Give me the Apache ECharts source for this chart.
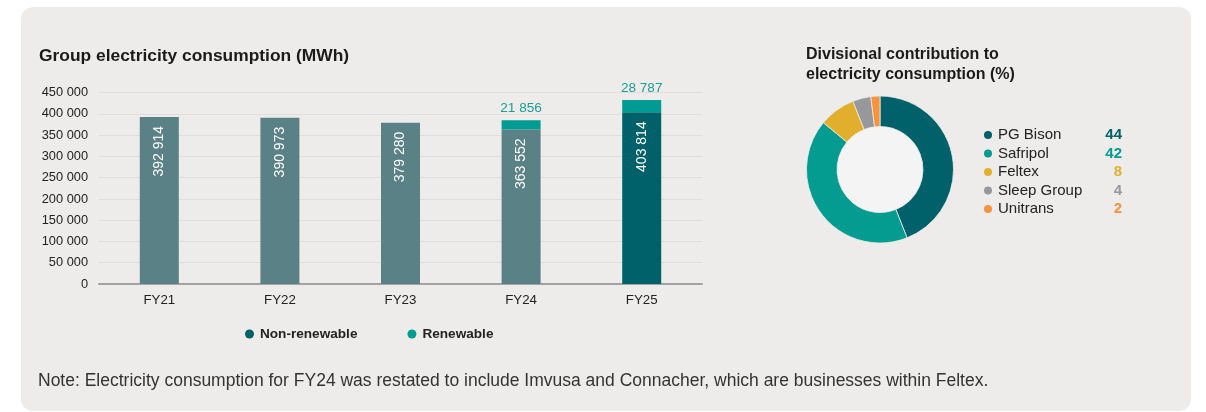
<!DOCTYPE html>
<html>
<head>
<meta charset="utf-8">
<script src="https://cdn.jsdelivr.net/npm/echarts@6/dist/echarts.min.js"></script>
<style>
  html, body { margin: 0; padding: 0; background: #ffffff; }
  #chart { width: 1206px; height: 412px; }
</style>
</head>
<body>
<div id="chart"></div>
<script>
// Group electricity consumption (MWh)
const years = ['FY21', 'FY22', 'FY23', 'FY24', 'FY25'];
const nonRenewable = [392914, 390973, 379280, 363552, 403814];
const renewable = [null, null, null, 21856, 28787];
const yTicks = { min: 0, max: 450000, interval: 50000 };

// Divisional contribution to electricity consumption (%)
const divisions = ['PG Bison', 'Safripol', 'Feltex', 'Sleep Group', 'Unitrans'];
const shares = [44, 42, 8, 4, 2];

const divisionColors = ['#00616a', '#049b90', '#e2af2c', '#98989c', '#f7923d'];
const pastBarColor = '#5a8186';
const currentBarColor = '#00616a';
const renewColor = '#009b93';

const FONT = '"Liberation Sans", Arial, Helvetica, sans-serif';
const spaced = v => String(v).replace(/\B(?=(\d{3})+(?!\d))/g, ' ');

const chart = echarts.init(document.getElementById('chart'), null, { renderer: 'canvas' });

const legendRich = { n: { fontFamily: FONT, fontSize: 15, color: '#222', width: 100 } };
divisions.forEach((d, i) => {
  legendRich['v' + i] = {
    fontFamily: FONT, fontSize: 15, fontWeight: 'bold',
    color: divisionColors[i], width: 24, align: 'right'
  };
});

chart.setOption({
  backgroundColor: '#ffffff',
  animation: false,
  graphic: [
    {
      type: 'rect', z: -10, silent: true,
      shape: { x: 21, y: 7, width: 1170, height: 404, r: 12 },
      style: { fill: '#edecea' }
    },
    {
      type: 'circle', z: 1, silent: true,
      shape: { cx: 880, cy: 169.5, r: 43 },
      style: { fill: '#f4f4f4' }
    }
  ],
  title: [
    {
      text: 'Group electricity consumption (MWh)',
      left: 39, top: 48, padding: 0,
      textStyle: { fontFamily: FONT, fontSize: 17.4, fontWeight: 'bold', color: '#1a1a1a' }
    },
    {
      text: 'Divisional contribution to\nelectricity consumption (%)',
      left: 806, top: 45, padding: 0,
      textStyle: { fontFamily: FONT, fontSize: 16, fontWeight: 'bold', color: '#1a1a1a', lineHeight: 20 }
    },
    {
      text: 'Note: Electricity consumption for FY24 was restated to include Imvusa and Connacher, which are businesses within Feltex.',
      left: 38, top: 372, padding: 0,
      textStyle: { fontFamily: FONT, fontSize: 17.5, fontWeight: 'normal', color: '#333' }
    }
  ],
  legend: [
    {
      data: [
        { name: 'Non-renewable', itemStyle: { color: currentBarColor } },
        { name: 'Renewable', itemStyle: { color: renewColor } }
      ],
      left: 245, top: 327, padding: 0,
      icon: 'circle', itemWidth: 9, itemHeight: 9, itemGap: 50,
      selectedMode: false,
      textStyle: { fontFamily: FONT, fontSize: 13.6, fontWeight: 'bold', color: '#222', padding: [0, 0, 0, 1] }
    },
    {
      data: divisions,
      orient: 'vertical',
      left: 982, top: 127, padding: 0,
      icon: 'circle', itemWidth: 10, itemHeight: 10, itemGap: 2.5,
      selectedMode: false,
      formatter: name => {
        const i = divisions.indexOf(name);
        return '{n|' + name + '}{v' + i + '|' + shares[i] + '}';
      },
      textStyle: { fontFamily: FONT, fontSize: 15, lineHeight: 16, rich: legendRich }
    }
  ],
  grid: { left: 99, right: 504, top: 92.7, bottom: 128, containLabel: false },
  xAxis: {
    type: 'category',
    data: years,
    axisLine: { lineStyle: { color: '#a3a3a3', width: 2 } },
    axisTick: { show: false },
    axisLabel: { fontFamily: FONT, fontSize: 13.3, color: '#222', margin: 10 }
  },
  yAxis: {
    type: 'value',
    min: yTicks.min, max: yTicks.max, interval: yTicks.interval,
    axisLine: { show: false },
    axisTick: { show: false },
    splitLine: { lineStyle: { color: '#e0dfdc', width: 1 } },
    axisLabel: { fontFamily: FONT, fontSize: 12.8, color: '#222', margin: 11, formatter: spaced }
  },
  series: [
    {
      name: 'Non-renewable',
      type: 'bar',
      stack: 'total',
      barWidth: 39,
      data: nonRenewable.map((v, i) => ({
        value: v,
        itemStyle: { color: i === nonRenewable.length - 1 ? currentBarColor : pastBarColor }
      })),
      itemStyle: { color: currentBarColor },
      label: {
        show: true,
        position: 'insideTop',
        rotate: 90,
        align: 'right',
        verticalAlign: 'middle',
        distance: 9,
        fontFamily: FONT, fontSize: 14, color: '#ffffff',
        formatter: p => spaced(p.value)
      }
    },
    {
      name: 'Renewable',
      type: 'bar',
      stack: 'total',
      barWidth: 39,
      data: renewable,
      itemStyle: { color: renewColor },
      label: {
        show: true,
        position: 'top',
        distance: 5,
        fontFamily: FONT, fontSize: 13.6, color: '#1c9e96',
        formatter: p => spaced(p.value)
      }
    },
    {
      name: 'Divisions',
      type: 'pie',
      center: [880, 169.5],
      radius: [43, 73.5],
      startAngle: 90,
      clockwise: true,
      label: { show: false },
      labelLine: { show: false },
      silent: true,
      itemStyle: { borderColor: '#edecea', borderWidth: 0.8 },
      data: divisions.map((d, i) => ({ name: d, value: shares[i], itemStyle: { color: divisionColors[i] } }))
    }
  ]
});
</script>
</body>
</html>
